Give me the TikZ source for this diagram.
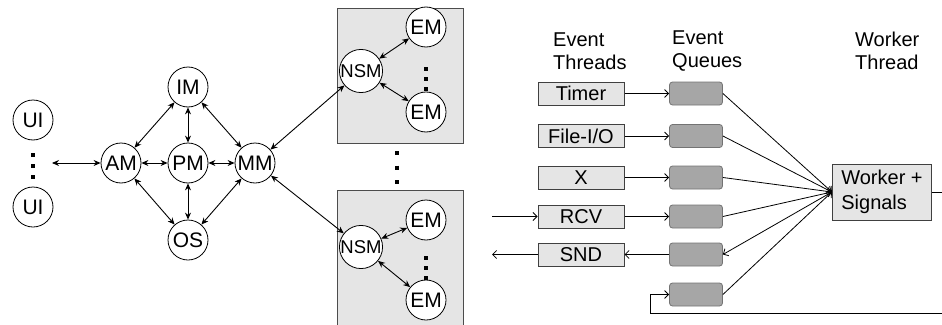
\documentclass[tikz,border=0pt]{standalone}
\usepackage{fontspec}
\setmainfont{Liberation Sans}
\usetikzlibrary{arrows.meta}

\begin{document}
\begin{tikzpicture}[x=1pt, y=-1pt, node distance=67pt,
		font=\fontsize{20}{23}\selectfont,
		main/.style = {draw, thick, circle, fill=white, minimum size=40pt, inner sep=0pt, font=\fontsize{21}{23}\selectfont},
		link/.style = {{Stealth[length=7pt,width=6pt]}-{Stealth[length=7pt,width=6pt]}, line width=0.9pt},
		flow/.style = {-{Straight Barb[length=4pt,width=8pt]}, line width=0.8pt},
		dots/.style = {line width=4pt, dash pattern=on 4pt off 7pt},
		cluster/.style = {draw=black!70, fill=black!10, thick},
		thread/.style = {draw=black!75, fill=black!10, line width=1pt, minimum width=86pt, minimum height=23pt, inner sep=0pt},
		queue/.style = {draw=black!55, fill=black!35, thick, rounded corners=3pt, minimum width=53pt, minimum height=23pt},
		head/.style = {align=left, inner sep=0pt, anchor=west}]
	\clip (0,0) rectangle (942,324);

	% managers
	\node[main] (pm) at (188,163) {PM};
	\node[main, left of = pm] (am) {AM};
	\node[main, right of = pm] (mm) {MM};
	\node[main, above of = pm, node distance=76pt] (im) {IM};
	\node[main, below of = pm, node distance=77pt] (os) {OS};
	\node[main] (ui1) at (33,120) {UI};
	\node[main, below of = ui1, node distance=87pt] (ui2) {UI};
	\coordinate (uiend) at (52,163);

	\draw[dots] ([yshift=-13pt]ui1.south) -- ([yshift=8pt]ui2.north);
	\draw[link] (uiend) -- (am);
	\draw[link] (am) -- (pm);
	\draw[link] (pm) -- (mm);
	\draw[link] (im) -- (pm);
	\draw[link] (pm) -- (os);
	\draw[link] (am) -- (im);
	\draw[link] (im) -- (mm);
	\draw[link] (am) -- (os);
	\draw[link] (os) -- (mm);

	% nodes
	\draw[cluster] (337,8) rectangle (463,143);
	\draw[cluster] (337,190) rectangle (463,340);
	\draw[dots, dash pattern=on 4pt off 10.5pt] (397,151) -- (397,184);

	\node[main, font=\fontsize{18.5}{20}\selectfont] (nsm1) at (361,71) {NSM};
	\node[main] (em1) at (426,27) {EM};
	\node[main, below of = em1, node distance=85pt] (em2) {EM};
	\node[main, font=\fontsize{18.5}{20}\selectfont] (nsm2) at (361,247) {NSM};
	\node[main] (em3) at (426,220) {EM};
	\node[main, below of = em3, node distance=80pt] (em4) {EM};

	\draw[dots, line width=3.5pt, dash pattern=on 3.5pt off 6.5pt] ([yshift=-20pt]em1.south) -- (em2.north);
	\draw[dots, line width=3.5pt, dash pattern=on 3.5pt off 6.5pt] ([yshift=-16pt]em3.south) -- (em4.north);
	\draw[link] (nsm1) -- (em1);
	\draw[link] (nsm1) -- (em2);
	\draw[link] (nsm2) -- (em3);
	\draw[link] (nsm2) -- (em4);
	\draw[link] (mm) -- (nsm1);
	\draw[link] (mm) -- (nsm2);

	% threads and queues
	\node[head] (threadshead) at (553,51) {Event\\Threads};
	\node[head] (queueshead) at (672,51) {Event\\Queues};
	\node[head] (workerhead) at (855,51) {Worker\\Thread};

	\node[thread] (timer) at (581,93.5) {Timer};
	\node[thread] (file) at (581,136) {File-I/O};
	\node[thread] (x) at (581,177.5) {X};
	\node[thread] (rcv) at (581,216.5) {RCV};
	\node[thread] (snd) at (581,254.5) {SND};

	\node[queue, right of = timer, node distance=115pt] (q1) {};
	\node[queue, right of = file, node distance=115pt] (q2) {};
	\node[queue, right of = x, node distance=115pt] (q3) {};
	\node[queue, right of = rcv, node distance=115pt] (q4) {};
	\node[queue, right of = snd, node distance=115pt] (q5) {};
	\node[queue, below of = q5, node distance=40pt] (q6) {};

	\node[draw=black!75, fill=black!10, line width=1pt, align=left, inner xsep=9pt, minimum height=56pt,
		font=\fontsize{20}{25}\selectfont] (worker) at (882,192) {Worker +\\Signals};

	\coordinate[left of = rcv, node distance=89pt] (rcvin);
	\coordinate[left of = snd, node distance=89pt] (sndout);
	\coordinate (loopr) at (960,313);
	\coordinate (back) at (650,313);

	\draw[flow] (timer) -- (q1);
	\draw[flow] (file) -- (q2);
	\draw[flow] (x) -- (q3);
	\draw[flow] (rcv) -- (q4);
	\draw[flow] (q5) -- (snd);
	\draw[flow] (rcvin) -- (rcv);
	\draw[flow] (snd) -- (sndout);

	\draw[flow] (q1.east) -- (worker.west);
	\draw[flow] (q2.east) -- (worker.west);
	\draw[flow] (q3.east) -- (worker.west);
	\draw[flow] (q4.east) -- (worker.west);
	\draw[flow] (worker.west) -- (q5.east);
	\draw[flow] (q6.east) -- (worker.west);
	\draw[flow] (worker.east) -| (loopr) -- (back) |- (q6.west);
\end{tikzpicture}
\end{document}
